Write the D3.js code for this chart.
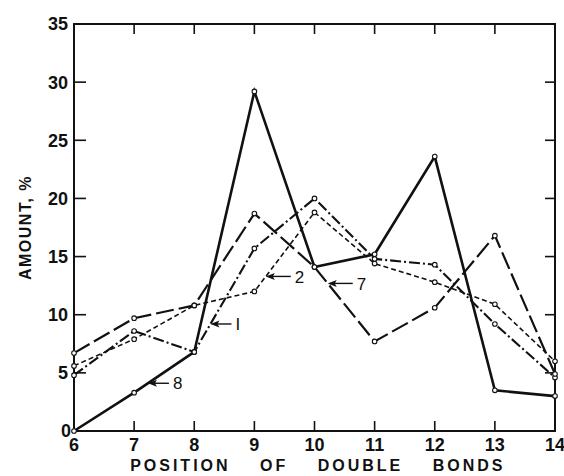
<!DOCTYPE html>
<html>
<head>
<meta charset="utf-8">
<script src="https://cdn.jsdelivr.net/npm/d3@7"></script>
<style>
  body { margin: 0; background: #fff; }
  text { font-family: "Liberation Sans", Arial, sans-serif; fill: #111; }
</style>
</head>
<body>
<div id="chart"></div>
<script>
// values
var positions = [6, 7, 8, 9, 10, 11, 12, 13, 14];
var series1 = [4.8, 8.6, 6.8, 15.7, 20.0, 14.8, 14.3, 9.2, 4.6];
var series2 = [5.6, 7.9, 10.8, 12.0, 18.8, 14.4, 12.8, 10.9, 6.0];
var series7 = [6.7, 9.7, 10.8, 18.7, 14.1, 7.7, 10.6, 16.8, 4.9];
var series8 = [0, 3.3, 6.8, 29.2, 14.1, 15.2, 23.6, 3.5, 3.0];
var seriesNames = ["1", "2", "7", "8"];
var yTicks = [0, 5, 10, 15, 20, 25, 30, 35];
var xTicks = [6, 7, 8, 9, 10, 11, 12, 13, 14];
// where each label arrow touches its line (x position of double bond)
var labelAt = [8.27, 9.19, 10.22, 7.23];

var width = 564, height = 476;
var margin = {top: 24, right: 9, bottom: 45, left: 74};
var w = width - margin.left - margin.right;
var h = height - margin.top - margin.bottom;

var svg = d3.select("#chart").append("svg")
    .attr("width", width)
    .attr("height", height);

var g = svg.append("g")
    .attr("transform", "translate(" + margin.left + "," + margin.top + ")");

var x = d3.scaleLinear().domain([6, 14]).range([0, w]);
var y = d3.scaleLinear().domain([0, 35]).range([h, 0]);

// frame
g.append("rect")
    .attr("x", 0).attr("y", 0)
    .attr("width", w).attr("height", h)
    .attr("fill", "none")
    .attr("stroke", "#111")
    .attr("stroke-width", 2);

// inward ticks on all four sides
var inner = xTicks.slice(1, -1);
var innerY = yTicks.slice(1, -1);
g.selectAll(".tb").data(inner).enter().append("line")
    .attr("x1", d => x(d)).attr("x2", d => x(d))
    .attr("y1", h).attr("y2", h - 10)
    .attr("stroke", "#111").attr("stroke-width", 1.6);
g.selectAll(".tt").data(inner).enter().append("line")
    .attr("x1", d => x(d)).attr("x2", d => x(d))
    .attr("y1", 0).attr("y2", 10)
    .attr("stroke", "#111").attr("stroke-width", 1.6);
g.selectAll(".tl").data(innerY).enter().append("line")
    .attr("x1", 0).attr("x2", 12)
    .attr("y1", d => y(d)).attr("y2", d => y(d))
    .attr("stroke", "#111").attr("stroke-width", 1.6);
g.selectAll(".tr").data(innerY).enter().append("line")
    .attr("x1", w).attr("x2", w - 10)
    .attr("y1", d => y(d)).attr("y2", d => y(d))
    .attr("stroke", "#111").attr("stroke-width", 1.6);

// tick labels
g.selectAll(".yl").data(yTicks).enter().append("text")
    .attr("x", d => d === 0 ? -3 : -6)
    .attr("y", d => y(d))
    .attr("dy", "0.36em")
    .attr("text-anchor", "end")
    .style("font-size", "18px")
    .style("font-weight", "bold")
    .text(d => d);

g.selectAll(".xl").data(xTicks).enter().append("text")
    .attr("x", d => x(d))
    .attr("y", h + 20)
    .attr("text-anchor", "middle")
    .style("font-size", "18px")
    .style("font-weight", "bold")
    .text(d => d);

// axis titles
g.append("text")
    .attr("x", x(7) - 4)
    .attr("y", h + 40)
    .style("font-size", "16px")
    .style("font-weight", "bold")
    .style("letter-spacing", "3px")
    .style("word-spacing", "22px")
    .attr("xml:space", "preserve")
    .text("POSITION OF DOUBLE BONDS");

svg.append("text")
    .attr("transform", "translate(31," + (margin.top + y(17.5)) + ") rotate(-90)")
    .attr("text-anchor", "middle")
    .style("font-size", "16px")
    .style("font-weight", "bold")
    .style("letter-spacing", "1.5px")
    .text("AMOUNT, %");

// series
var allSeries = [series1, series2, series7, series8];
var dashes = ["11,3,2,3", "5,3", "18,5", null];
var widths = [2.1, 1.6, 2.2, 2.6];

var line = d3.line()
    .x((d, i) => x(positions[i]))
    .y(d => y(d));

allSeries.forEach(function (vals, k) {
    g.append("path")
        .datum(vals)
        .attr("d", line)
        .attr("fill", "none")
        .attr("stroke", "#111")
        .attr("stroke-width", widths[k])
        .attr("stroke-linejoin", "miter")
        .attr("stroke-dasharray", dashes[k]);

    g.selectAll(".pt" + k).data(vals).enter().append("circle")
        .attr("cx", (d, i) => x(positions[i]))
        .attr("cy", d => y(d))
        .attr("r", 2.3)
        .attr("fill", "#fff")
        .attr("stroke", "#111")
        .attr("stroke-width", 1.1);
});

// series labels with arrows
function valueAt(vals, px) {
    var i = Math.floor(px) - positions[0];
    var t = px - Math.floor(px);
    return vals[i] + (vals[i + 1] - vals[i]) * t;
}

allSeries.forEach(function (vals, k) {
    var tx = x(labelAt[k]);
    var ty = y(valueAt(vals, labelAt[k]));
    var len = k === 0 || k === 3 ? 21 : 25;
    g.append("line")
        .attr("x1", tx + 2).attr("x2", tx + len)
        .attr("y1", ty).attr("y2", ty)
        .attr("stroke", "#111").attr("stroke-width", 1.4);
    g.append("path")
        .attr("d", "M" + tx + "," + ty + "L" + (tx + 9) + "," + (ty - 3.5) +
            "L" + (tx + 7) + "," + ty + "L" + (tx + 9) + "," + (ty + 3.5) + "Z")
        .attr("fill", "#111");
    g.append("text")
        .attr("x", tx + len + 4)
        .attr("y", ty)
        .attr("dy", "0.36em")
        .style("font-size", "17px")
        .text(seriesNames[k] === "1" ? "I" : seriesNames[k]);
});
</script>
</body>
</html>
